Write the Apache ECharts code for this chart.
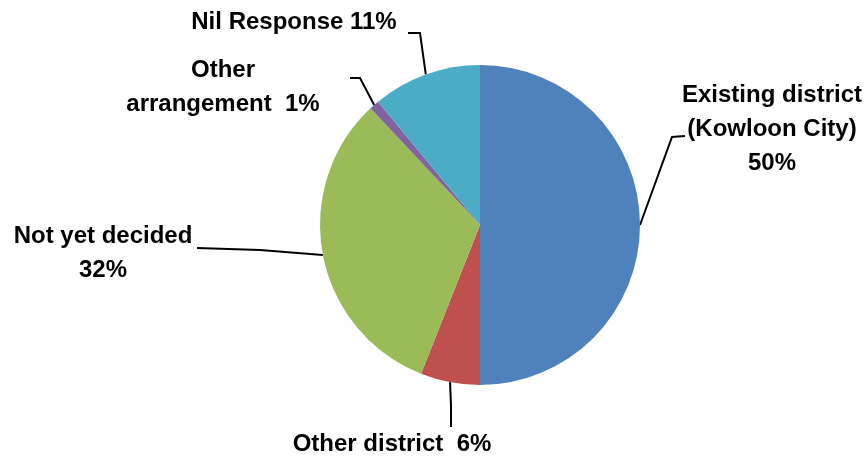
<!DOCTYPE html>
<html>
<head>
<meta charset="utf-8">
<script src="https://cdn.jsdelivr.net/npm/echarts@6/dist/echarts.min.js"></script>
<style>
  html, body { margin: 0; padding: 0; background: #ffffff; }
  #chart { width: 867px; height: 456px; }
</style>
</head>
<body>
<div id="chart"></div>
<script>
// Survey responses: where residents intend to move
const categories = [
  'Existing district\n(Kowloon City)',
  'Other district',
  'Not yet decided',
  'Other\narrangement',
  'Nil Response'
];
const shares = [50, 6, 32, 1, 11];
// separator between the category name and its percentage
const separators = ['\n', '  ', '\n', '  ', ' '];
const sliceColors = ['#4F81BD', '#C0504D', '#9BBB59', '#8064A2', '#4BACC6'];

// label anchor (block centre) and leader-line bend / end points
const labelPlacement = [
  { x: 772, y: 129, bend: [672, 137], end: [685, 136] },
  { x: 392, y: 444, bend: [451, 405], end: [451, 427] },
  { x: 103, y: 253, bend: [260, 250], end: [197, 248] },
  { x: 223, y: 87,  bend: [360, 78],  end: [350, 78] },
  { x: 294, y: 22,  bend: [420, 33],  end: [408, 33] }
];

const chart = echarts.init(document.getElementById('chart'), null, { renderer: 'canvas' });

chart.setOption({
  animation: false,
  backgroundColor: '#ffffff',
  series: [{
    type: 'pie',
    center: [480, 225],
    radius: 160,
    startAngle: 90,
    clockwise: true,
    data: categories.map((name, i) => ({
      name: name,
      value: shares[i],
      itemStyle: { color: sliceColors[i] }
    })),
    itemStyle: { borderWidth: 0 },
    label: {
      show: true,
      position: 'outside',
      color: '#000000',
      fontFamily: '"Liberation Sans", Arial, sans-serif',
      fontWeight: 'bold',
      fontSize: 24,
      lineHeight: 34,
      align: 'center',
      overflow: 'none',
      formatter: p => p.name + separators[p.dataIndex] + p.value + '%'
    },
    labelLine: {
      show: true,
      lineStyle: { color: '#000000', width: 2 }
    },
    labelLayout: function (params) {
      const place = labelPlacement[params.dataIndex];
      const edge = params.labelLinePoints ? params.labelLinePoints[0] : place.bend;
      return {
        x: place.x,
        y: place.y,
        align: 'center',
        verticalAlign: 'middle',
        labelLinePoints: [edge, place.bend, place.end]
      };
    },
    emphasis: { disabled: true }
  }]
});
</script>
</body>
</html>
